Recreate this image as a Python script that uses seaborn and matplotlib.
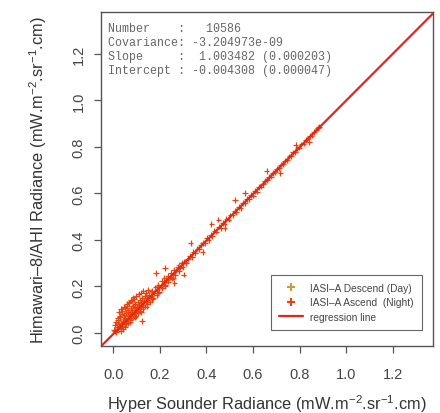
import numpy as np
import pandas as pd
import matplotlib
matplotlib.use("Agg")
import matplotlib.pyplot as plt
from matplotlib.lines import Line2D
import seaborn as sns

night_x = [0.003, 0.006, 0.012, 0.015, 0.011, 0.018,
           0.022, 0.025, 0.019, 0.027, 0.024, 0.031,
           0.034, 0.029, 0.036, 0.033, 0.038, 0.041,
           0.044, 0.039, 0.046, 0.043, 0.048, 0.052,
           0.055, 0.049, 0.057, 0.053, 0.058, 0.061,
           0.064, 0.059, 0.066, 0.063, 0.068, 0.071,
           0.074, 0.069, 0.076, 0.073, 0.078, 0.082,
           0.085, 0.079, 0.086, 0.083, 0.088, 0.091,
           0.094, 0.089, 0.096, 0.093, 0.101, 0.104,
           0.099, 0.106, 0.103, 0.112, 0.115, 0.109,
           0.116, 0.113, 0.121, 0.124, 0.119, 0.126,
           0.123, 0.132, 0.135, 0.129, 0.136, 0.141,
           0.144, 0.139, 0.146, 0.151, 0.154, 0.149,
           0.008, 0.017, 0.028, 0.037, 0.047, 0.056,
           0.067, 0.077, 0.087, 0.097, 0.108, 0.118,
           0.032, 0.051, 0.072, 0.095, 0.118, 0.143,
           0.158, 0.163, 0.167, 0.171, 0.176, 0.181,
           0.186, 0.189, 0.194, 0.198, 0.203, 0.207,
           0.211, 0.216, 0.219, 0.224, 0.228, 0.233,
           0.237, 0.242, 0.246, 0.251, 0.255, 0.261,
           0.266, 0.271, 0.276, 0.282, 0.287, 0.293,
           0.298, 0.303, 0.168, 0.192, 0.223, 0.256,
           0.221, 0.332, 0.421, 0.523, 0.302, 0.478,
           0.124, 0.183, 0.262, 0.384, 0.451, 0.566,
           0.312, 0.321, 0.328, 0.337, 0.344, 0.352,
           0.361, 0.368, 0.377, 0.384, 0.393, 0.401,
           0.409, 0.418, 0.426, 0.434, 0.443, 0.452,
           0.461, 0.469, 0.478, 0.486, 0.495, 0.503,
           0.512, 0.521, 0.529, 0.538, 0.547, 0.556,
           0.565, 0.574, 0.583, 0.591, 0.599, 0.607,
           0.616, 0.625, 0.634, 0.642, 0.651, 0.659,
           0.668, 0.677, 0.686, 0.694, 0.703, 0.712,
           0.721, 0.729, 0.738, 0.747, 0.756, 0.764,
           0.773, 0.782, 0.791, 0.799, 0.808, 0.817,
           0.826, 0.834, 0.843, 0.852, 0.861, 0.872,
           0.658, 0.718, 0.783, 0.842, 0.879, 0.884]
night_y = [0.012, 0.034, 0.004, 0.027, 0.048, 0.063,
           0.016, 0.038, 0.055, 0.072, 0.091, 0.021,
           0.044, 0.067, 0.083, 0.104, 0.031, 0.052,
           0.076, 0.094, 0.113, 0.018, 0.047, 0.066,
           0.087, 0.108, 0.124, 0.039, 0.058, 0.079,
           0.097, 0.116, 0.132, 0.044, 0.071, 0.089,
           0.106, 0.128, 0.142, 0.057, 0.081, 0.098,
           0.117, 0.139, 0.153, 0.066, 0.092, 0.108,
           0.124, 0.146, 0.071, 0.086, 0.113, 0.132,
           0.158, 0.084, 0.101, 0.121, 0.143, 0.167,
           0.094, 0.112, 0.128, 0.152, 0.174, 0.104,
           0.119, 0.138, 0.161, 0.182, 0.113, 0.132,
           0.149, 0.171, 0.124, 0.142, 0.163, 0.186,
           0.009, 0.019, 0.029, 0.041, 0.051, 0.058,
           0.062, 0.074, 0.083, 0.094, 0.104, 0.115,
           0.008, 0.027, 0.046, 0.069, 0.089, 0.113,
           0.134, 0.158, 0.181, 0.149, 0.172, 0.196,
           0.163, 0.187, 0.208, 0.178, 0.199, 0.224,
           0.192, 0.214, 0.236, 0.206, 0.229, 0.246,
           0.221, 0.239, 0.258, 0.234, 0.252, 0.271,
           0.249, 0.268, 0.284, 0.266, 0.281, 0.302,
           0.283, 0.307, 0.147, 0.171, 0.202, 0.238,
           0.279, 0.388, 0.468, 0.571, 0.251, 0.452,
           0.052, 0.258, 0.214, 0.348, 0.487, 0.602,
           0.301, 0.319, 0.331, 0.326, 0.349, 0.344,
           0.363, 0.359, 0.378, 0.387, 0.386, 0.408,
           0.398, 0.421, 0.417, 0.438, 0.436, 0.457,
           0.452, 0.474, 0.469, 0.491, 0.487, 0.506,
           0.507, 0.524, 0.521, 0.541, 0.538, 0.559,
           0.557, 0.576, 0.574, 0.594, 0.591, 0.611,
           0.608, 0.627, 0.629, 0.639, 0.654, 0.656,
           0.671, 0.672, 0.689, 0.692, 0.706, 0.709,
           0.724, 0.726, 0.741, 0.743, 0.759, 0.761,
           0.776, 0.779, 0.794, 0.797, 0.811, 0.814,
           0.829, 0.832, 0.846, 0.849, 0.864, 0.873,
           0.697, 0.689, 0.808, 0.821, 0.882, 0.887]

# day (descending) observations, mostly hidden under the night points
day_x = [0.021, 0.042, 0.054, 0.071, 0.088, 0.102, 0.122, 0.141, 0.162, 0.191, 0.232, 0.281]
day_y = [0.043, 0.061, 0.092, 0.088, 0.121, 0.098, 0.143, 0.152, 0.178, 0.204, 0.226, 0.293]

n_obs = 10586
covariance = -3.204973e-09
slope, slope_se = 1.003482, 0.000203
intercept, intercept_se = -0.004308, 0.000047

df = pd.DataFrame({
    "x": day_x + night_x,
    "y": day_y + night_y,
    "pass": ["day"] * len(day_x) + ["night"] * len(night_x),
})

sns.set_style("ticks")
plt.rcParams["font.family"] = ["Liberation Sans", "DejaVu Sans"]
plt.rcParams["mathtext.fontset"] = "custom"
plt.rcParams["mathtext.rm"] = "Liberation Sans"
plt.rcParams["mathtext.it"] = "Liberation Sans"

day_col = "#c99a3e"
night_col = "#e8420f"
line_col = "#e3261b"

fig = plt.figure(figsize=(4.4, 4.14), dpi=100)
ax = fig.add_axes([0.2295, 0.1618, 0.7545, 0.8068])

sns.scatterplot(data=df, x="x", y="y", hue="pass",
                palette={"day": day_col, "night": night_col},
                marker="+", s=16, linewidth=0.9, legend=False, ax=ax)
ax.axline((0, intercept), slope=slope, color=line_col, lw=1.6)

ax.set_xlim(-0.053, 1.373)
ax.set_ylim(-0.056, 1.38)
ticks = [0.0, 0.2, 0.4, 0.6, 0.8, 1.0, 1.2]
ax.set_xticks(ticks)
ax.set_yticks(ticks)
ax.set_xticklabels([f"{t:.1f}" for t in ticks])
ax.set_yticklabels([f"{t:.1f}" for t in ticks], rotation=90, va="center")
ax.tick_params(direction="out", length=5, width=0.9, colors="#555555",
               labelcolor="#444444", labelsize=10.5)
ax.tick_params(axis="x", pad=10)
ax.tick_params(axis="y", pad=6)

for sp in ax.spines.values():
    sp.set_visible(True)
    sp.set_color("#555555")
    sp.set_linewidth(1.0)

unit = r"(mW.m$^{-2}$.sr$^{-1}$.cm)"
ax.set_xlabel("Hyper Sounder Radiance " + unit, fontsize=11.8, color="#333333", labelpad=8)
ax.set_ylabel("Himawari\u20138/AHI Radiance " + unit, fontsize=11.8, color="#333333", labelpad=16)

info = [
    f"Number    :   {n_obs}",
    f"Covariance: {covariance:.6e}",
    f"Slope     :  {slope:.6f} ({slope_se:.6f})",
    f"Intercept : {intercept:.6f} ({intercept_se:.6f})",
]
for i, line in enumerate(info):
    ax.text(0.021, 0.952 - i * 0.042, line, transform=ax.transAxes,
            family="Liberation Mono", fontsize=8.4, color="#666666", va="center")

handles = [
    Line2D([], [], ls="none", marker="+", color=day_col, ms=6, mew=1.5),
    Line2D([], [], ls="none", marker="+", color=night_col, ms=6, mew=1.5),
    Line2D([], [], color=line_col, lw=1.6),
]
labels = ["IASI\u2013A Descend (Day)", "IASI\u2013A Ascend  (Night)", "regression line"]
leg = ax.legend(handles, labels, loc="lower right", bbox_to_anchor=(0.967, 0.048),
                fontsize=7.3, frameon=True, fancybox=False, framealpha=1,
                edgecolor="#666666", handlelength=2.4, handletextpad=0.7,
                borderpad=0.8, labelspacing=0.45, borderaxespad=0)
leg.get_frame().set_linewidth(0.8)
for t in leg.get_texts():
    t.set_color("#444444")

fig.savefig("out.png", dpi=100)
